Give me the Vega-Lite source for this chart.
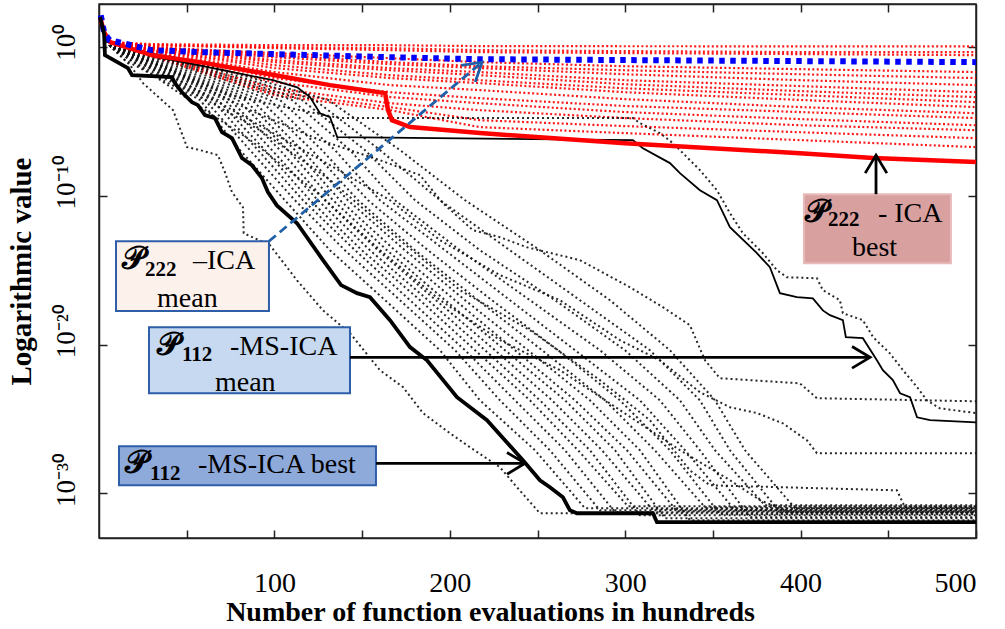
{
"$schema":"https://vega.github.io/schema/vega-lite/v6.json",
"width":877,"height":534,
"autosize":{"type":"none"},
"padding":{"left":99,"top":4,"right":29,"bottom":91},
"config":{"font":"Liberation Serif","view":{"stroke":"#222","strokeWidth":1.5}},
"datasets":{
"lines":[
{"grp":"ica_run","run":"r1","x":1,"y":100},{"grp":"ica_run","run":"r1","x":3,"y":6},{"grp":"ica_run","run":"r1","x":6,"y":2.2},{"grp":"ica_run","run":"r1","x":30,"y":1.6},{"grp":"ica_run","run":"r1","x":100,"y":1.35},{"grp":"ica_run","run":"r1","x":166,"y":1.35},{"grp":"ica_run","run":"r1","x":217,"y":1.17},{"grp":"ica_run","run":"r1","x":300,"y":1.15},{"grp":"ica_run","run":"r1","x":400,"y":1.13},{"grp":"ica_run","run":"r1","x":500,"y":1.12},
{"grp":"ica_run","run":"r2","x":1,"y":100},{"grp":"ica_run","run":"r2","x":3,"y":6},{"grp":"ica_run","run":"r2","x":6,"y":2.2},{"grp":"ica_run","run":"r2","x":30,"y":1.35},{"grp":"ica_run","run":"r2","x":100,"y":1.0},{"grp":"ica_run","run":"r2","x":166,"y":0.85},{"grp":"ica_run","run":"r2","x":217,"y":0.63},{"grp":"ica_run","run":"r2","x":300,"y":0.54},{"grp":"ica_run","run":"r2","x":400,"y":0.46},{"grp":"ica_run","run":"r2","x":500,"y":0.46},
{"grp":"ica_run","run":"r3","x":1,"y":100},{"grp":"ica_run","run":"r3","x":3,"y":6},{"grp":"ica_run","run":"r3","x":6,"y":2.2},{"grp":"ica_run","run":"r3","x":30,"y":1.35},{"grp":"ica_run","run":"r3","x":100,"y":0.85},{"grp":"ica_run","run":"r3","x":166,"y":0.63},{"grp":"ica_run","run":"r3","x":217,"y":0.46},{"grp":"ica_run","run":"r3","x":300,"y":0.4},{"grp":"ica_run","run":"r3","x":400,"y":0.34},{"grp":"ica_run","run":"r3","x":500,"y":0.29},
{"grp":"ica_run","run":"r4","x":1,"y":100},{"grp":"ica_run","run":"r4","x":3,"y":6},{"grp":"ica_run","run":"r4","x":6,"y":2.2},{"grp":"ica_run","run":"r4","x":30,"y":1.0},{"grp":"ica_run","run":"r4","x":100,"y":0.4},{"grp":"ica_run","run":"r4","x":166,"y":0.18},{"grp":"ica_run","run":"r4","x":217,"y":0.098},{"grp":"ica_run","run":"r4","x":300,"y":0.052},{"grp":"ica_run","run":"r4","x":400,"y":0.033},{"grp":"ica_run","run":"r4","x":500,"y":0.021},
{"grp":"ica_run","run":"r5","x":1,"y":100},{"grp":"ica_run","run":"r5","x":3,"y":6},{"grp":"ica_run","run":"r5","x":6,"y":2.2},{"grp":"ica_run","run":"r5","x":30,"y":1.0},{"grp":"ica_run","run":"r5","x":100,"y":0.29},{"grp":"ica_run","run":"r5","x":166,"y":0.098},{"grp":"ica_run","run":"r5","x":217,"y":0.052},{"grp":"ica_run","run":"r5","x":300,"y":0.028},{"grp":"ica_run","run":"r5","x":400,"y":0.015},{"grp":"ica_run","run":"r5","x":500,"y":0.0083},
{"grp":"ica_run","run":"r6","x":1,"y":100},{"grp":"ica_run","run":"r6","x":3,"y":6},{"grp":"ica_run","run":"r6","x":6,"y":2.2},{"grp":"ica_run","run":"r6","x":30,"y":0.85},{"grp":"ica_run","run":"r6","x":100,"y":0.21},{"grp":"ica_run","run":"r6","x":166,"y":0.072},{"grp":"ica_run","run":"r6","x":217,"y":0.039},{"grp":"ica_run","run":"r6","x":300,"y":0.015},{"grp":"ica_run","run":"r6","x":400,"y":0.006},{"grp":"ica_run","run":"r6","x":500,"y":0.0028},
{"grp":"ica_run","run":"r7","x":1,"y":100},{"grp":"ica_run","run":"r7","x":3,"y":6},{"grp":"ica_run","run":"r7","x":6,"y":2.2},{"grp":"ica_run","run":"r7","x":30,"y":0.85},{"grp":"ica_run","run":"r7","x":100,"y":0.135},{"grp":"ica_run","run":"r7","x":166,"y":0.039},{"grp":"ica_run","run":"r7","x":217,"y":0.021},{"grp":"ica_run","run":"r7","x":300,"y":0.006},{"grp":"ica_run","run":"r7","x":400,"y":0.0024},{"grp":"ica_run","run":"r7","x":500,"y":0.00093},
{"grp":"ica_run","run":"r8","x":1,"y":100},{"grp":"ica_run","run":"r8","x":3,"y":6},{"grp":"ica_run","run":"r8","x":6,"y":2.2},{"grp":"ica_run","run":"r8","x":30,"y":0.74},{"grp":"ica_run","run":"r8","x":100,"y":0.098},{"grp":"ica_run","run":"r8","x":166,"y":0.028},{"grp":"ica_run","run":"r8","x":217,"y":0.013},{"grp":"ica_run","run":"r8","x":300,"y":0.0032},{"grp":"ica_run","run":"r8","x":400,"y":0.0011},{"grp":"ica_run","run":"r8","x":500,"y":0.00044},
{"grp":"ica_run","run":"r9","x":1,"y":100},{"grp":"ica_run","run":"r9","x":3,"y":6},{"grp":"ica_run","run":"r9","x":6,"y":2.2},{"grp":"ica_run","run":"r9","x":30,"y":0.63},{"grp":"ica_run","run":"r9","x":100,"y":0.062},{"grp":"ica_run","run":"r9","x":166,"y":0.013},{"grp":"ica_run","run":"r9","x":217,"y":0.006},{"grp":"ica_run","run":"r9","x":300,"y":0.0017},{"grp":"ica_run","run":"r9","x":400,"y":0.00059},{"grp":"ica_run","run":"r9","x":500,"y":0.0002},
{"grp":"ica_run","run":"r10","x":1,"y":100},{"grp":"ica_run","run":"r10","x":3,"y":6},{"grp":"ica_run","run":"r10","x":6,"y":2.2},{"grp":"ica_run","run":"r10","x":30,"y":0.63},{"grp":"ica_run","run":"r10","x":100,"y":0.039},{"grp":"ica_run","run":"r10","x":166,"y":0.0083},{"grp":"ica_run","run":"r10","x":217,"y":0.0038},{"grp":"ica_run","run":"r10","x":300,"y":0.00093},{"grp":"ica_run","run":"r10","x":400,"y":0.00028},{"grp":"ica_run","run":"r10","x":500,"y":0.000093},
{"grp":"ica_run","run":"r11","x":1,"y":100},{"grp":"ica_run","run":"r11","x":3,"y":6},{"grp":"ica_run","run":"r11","x":6,"y":2.2},{"grp":"ica_run","run":"r11","x":30,"y":0.54},{"grp":"ica_run","run":"r11","x":100,"y":0.021},{"grp":"ica_run","run":"r11","x":166,"y":0.0028},{"grp":"ica_run","run":"r11","x":217,"y":0.0013},{"grp":"ica_run","run":"r11","x":300,"y":0.00032},{"grp":"ica_run","run":"r11","x":400,"y":0.000093},{"grp":"ica_run","run":"r11","x":500,"y":0.000036},
{"grp":"ica_run","run":"r12","x":1,"y":100},{"grp":"ica_run","run":"r12","x":3,"y":6},{"grp":"ica_run","run":"r12","x":6,"y":2.2},{"grp":"ica_run","run":"r12","x":30,"y":0.46},{"grp":"ica_run","run":"r12","x":100,"y":0.0083},{"grp":"ica_run","run":"r12","x":166,"y":0.00093},{"grp":"ica_run","run":"r12","x":217,"y":0.00037},{"grp":"ica_run","run":"r12","x":300,"y":0.00011},{"grp":"ica_run","run":"r12","x":400,"y":0.000043},{"grp":"ica_run","run":"r12","x":500,"y":0.000017},
{"grp":"ica_run","run":"r13","x":1,"y":100},{"grp":"ica_run","run":"r13","x":3,"y":6},{"grp":"ica_run","run":"r13","x":6,"y":2.2},{"grp":"ica_run","run":"r13","x":30,"y":0.4},{"grp":"ica_run","run":"r13","x":100,"y":0.0045},{"grp":"ica_run","run":"r13","x":166,"y":0.00044},{"grp":"ica_run","run":"r13","x":217,"y":0.00017},{"grp":"ica_run","run":"r13","x":300,"y":0.000043},{"grp":"ica_run","run":"r13","x":400,"y":0.0000145},{"grp":"ica_run","run":"r13","x":500,"y":0.0000056},
{"grp":"ica_run","run":"r14","x":1,"y":100},{"grp":"ica_run","run":"r14","x":3,"y":6},{"grp":"ica_run","run":"r14","x":6,"y":2.2},{"grp":"ica_run","run":"r14","x":30,"y":0.34},{"grp":"ica_run","run":"r14","x":100,"y":0.0017},{"grp":"ica_run","run":"r14","x":166,"y":0.00017},{"grp":"ica_run","run":"r14","x":217,"y":0.000058},{"grp":"ica_run","run":"r14","x":300,"y":0.000017},{"grp":"ica_run","run":"r14","x":400,"y":0.0000056},{"grp":"ica_run","run":"r14","x":500,"y":0.0000026},
{"grp":"ica_run","run":"r15","x":1,"y":100},{"grp":"ica_run","run":"r15","x":3,"y":6},{"grp":"ica_run","run":"r15","x":6,"y":2.2},{"grp":"ica_run","run":"r15","x":30,"y":0.29},{"grp":"ica_run","run":"r15","x":100,"y":0.00093},{"grp":"ica_run","run":"r15","x":166,"y":0.000093},{"grp":"ica_run","run":"r15","x":217,"y":0.0000123},{"grp":"ica_run","run":"r15","x":300,"y":0.0000049},{"grp":"ica_run","run":"r15","x":400,"y":0.0000019},{"grp":"ica_run","run":"r15","x":500,"y":7.6e-7},
{"grp":"ica_run","run":"r16","x":1,"y":100},{"grp":"ica_run","run":"r16","x":3,"y":6},{"grp":"ica_run","run":"r16","x":6,"y":2.2},{"grp":"ica_run","run":"r16","x":30,"y":0.25},{"grp":"ica_run","run":"r16","x":100,"y":0.00059},{"grp":"ica_run","run":"r16","x":166,"y":0.000058},{"grp":"ica_run","run":"r16","x":217,"y":4.2e-6},{"grp":"ica_run","run":"r16","x":300,"y":1.66e-6},{"grp":"ica_run","run":"r16","x":400,"y":5.6e-7},{"grp":"ica_run","run":"r16","x":500,"y":1.9e-7},

{"grp":"ica_mean","run":"m","x":1,"y":140},{"grp":"ica_mean","run":"m","x":3,"y":8.7},{"grp":"ica_mean","run":"m","x":6,"y":3},{"grp":"ica_mean","run":"m","x":30,"y":0.63},{"grp":"ica_mean","run":"m","x":58,"y":0.46},{"grp":"ica_mean","run":"m","x":100,"y":0.34},{"grp":"ica_mean","run":"m","x":166,"y":0.21},{"grp":"ica_mean","run":"m","x":217,"y":0.155},{"grp":"ica_mean","run":"m","x":300,"y":0.135},{"grp":"ica_mean","run":"m","x":400,"y":0.115},{"grp":"ica_mean","run":"m","x":500,"y":0.098},

{"grp":"ica_best","run":"b","x":0.6,"y":105},{"grp":"ica_best","run":"b","x":2.9,"y":10.2},{"grp":"ica_best","run":"b","x":6.3,"y":2.2},{"grp":"ica_best","run":"b","x":30.2,"y":0.29},{"grp":"ica_best","run":"b","x":57.6,"y":0.098},{"grp":"ica_best","run":"b","x":99.8,"y":0.0132},{"grp":"ica_best","run":"b","x":131.7,"y":0.0028},{"grp":"ica_best","run":"b","x":163.1,"y":0.00081},{"grp":"ica_best","run":"b","x":164.8,"y":0.000058},{"grp":"ica_best","run":"b","x":167.0,"y":0.0000123},{"grp":"ica_best","run":"b","x":177.3,"y":4.2e-6},{"grp":"ica_best","run":"b","x":217.2,"y":1.66e-6},{"grp":"ica_best","run":"b","x":299.9,"y":3.5e-7},{"grp":"ica_best","run":"b","x":399.6,"y":7.4e-8},{"grp":"ica_best","run":"b","x":441.3,"y":3.5e-8},{"grp":"ica_best","run":"b","x":500,"y":1.86e-8},

{"grp":"ms_mean","run":"m","x":0.6,"y":105},{"grp":"ms_mean","run":"m","x":2.9,"y":13.8},{"grp":"ms_mean","run":"m","x":6.3,"y":2.2},{"grp":"ms_mean","run":"m","x":33.1,"y":0.21},{"grp":"ms_mean","run":"m","x":70.7,"y":0.028},{"grp":"ms_mean","run":"m","x":99.2,"y":0.006},{"grp":"ms_mean","run":"m","x":113.0,"y":0.002},{"grp":"ms_mean","run":"m","x":120.3,"y":0.00044},{"grp":"ms_mean","run":"m","x":126.0,"y":3.6e-5},{"grp":"ms_mean","run":"m","x":131.7,"y":1.95e-5},{"grp":"ms_mean","run":"m","x":135.8,"y":8.9e-7},{"grp":"ms_mean","run":"m","x":304.4,"y":5.6e-7},{"grp":"ms_mean","run":"m","x":310.1,"y":1.6e-7},{"grp":"ms_mean","run":"m","x":325.5,"y":1.6e-8},{"grp":"ms_mean","run":"m","x":331.2,"y":3.4e-9},{"grp":"ms_mean","run":"m","x":342.6,"y":2.4e-10},{"grp":"ms_mean","run":"m","x":352.3,"y":5.1e-11},{"grp":"ms_mean","run":"m","x":359.7,"y":7.9e-13},{"grp":"ms_mean","run":"m","x":375.1,"y":1.4e-14},{"grp":"ms_mean","run":"m","x":382.5,"y":1.6e-15},{"grp":"ms_mean","run":"m","x":388.2,"y":2.9e-17},{"grp":"ms_mean","run":"m","x":397.9,"y":1.55e-17},{"grp":"ms_mean","run":"m","x":407.0,"y":1.3e-17},{"grp":"ms_mean","run":"m","x":412.7,"y":2.0e-18},{"grp":"ms_mean","run":"m","x":416.7,"y":9.5e-19},{"grp":"ms_mean","run":"m","x":424.1,"y":4.4e-19},{"grp":"ms_mean","run":"m","x":425.8,"y":3.2e-20},{"grp":"ms_mean","run":"m","x":435.5,"y":2.7e-20},{"grp":"ms_mean","run":"m","x":443.5,"y":8.9e-22},{"grp":"ms_mean","run":"m","x":446.9,"y":1.9e-22},{"grp":"ms_mean","run":"m","x":452.6,"y":4.1e-23},{"grp":"ms_mean","run":"m","x":456.7,"y":5.4e-24},{"grp":"ms_mean","run":"m","x":462.4,"y":2.9e-24},{"grp":"ms_mean","run":"m","x":466.4,"y":1.3e-25},{"grp":"ms_mean","run":"m","x":473.8,"y":8.3e-26},{"grp":"ms_mean","run":"m","x":500,"y":6.0e-26},

{"grp":"ms_best","run":"b","x":0.6,"y":105},{"grp":"ms_best","run":"b","x":2.9,"y":7.9},{"grp":"ms_best","run":"b","x":3.4,"y":0.29},{"grp":"ms_best","run":"b","x":16.5,"y":0.039},{"grp":"ms_best","run":"b","x":18.8,"y":0.013},{"grp":"ms_best","run":"b","x":41.6,"y":0.0095},{"grp":"ms_best","run":"b","x":43.3,"y":0.0038},{"grp":"ms_best","run":"b","x":47.3,"y":0.00093},{"grp":"ms_best","run":"b","x":53.0,"y":0.0002},{"grp":"ms_best","run":"b","x":56.4,"y":0.000126},{"grp":"ms_best","run":"b","x":60.4,"y":2.7e-5},{"grp":"ms_best","run":"b","x":66.1,"y":1.7e-5},{"grp":"ms_best","run":"b","x":70.1,"y":1.9e-6},{"grp":"ms_best","run":"b","x":75.8,"y":7.6e-7},{"grp":"ms_best","run":"b","x":81.5,"y":3.5e-8},{"grp":"ms_best","run":"b","x":87.2,"y":1.15e-8},{"grp":"ms_best","run":"b","x":92.9,"y":1.55e-9},{"grp":"ms_best","run":"b","x":96.3,"y":1.8e-10},{"grp":"ms_best","run":"b","x":101.4,"y":2.3e-11},{"grp":"ms_best","run":"b","x":112.9,"y":1.45e-12},{"grp":"ms_best","run":"b","x":127.7,"y":4.8e-15},{"grp":"ms_best","run":"b","x":138.0,"y":1e-16},{"grp":"ms_best","run":"b","x":147.1,"y":2.9e-17},{"grp":"ms_best","run":"b","x":154.5,"y":1.55e-17},{"grp":"ms_best","run":"b","x":165.9,"y":4.4e-19},{"grp":"ms_best","run":"b","x":177.3,"y":6.8e-21},{"grp":"ms_best","run":"b","x":187.0,"y":8.9e-22},{"grp":"ms_best","run":"b","x":204.1,"y":2.9e-24},{"grp":"ms_best","run":"b","x":221.2,"y":8.3e-26},{"grp":"ms_best","run":"b","x":241.7,"y":1.7e-28},{"grp":"ms_best","run":"b","x":251.4,"y":7.6e-30},{"grp":"ms_best","run":"b","x":257.1,"y":2.6e-30},{"grp":"ms_best","run":"b","x":264.5,"y":5.5e-31},{"grp":"ms_best","run":"b","x":268.5,"y":7.2e-32},{"grp":"ms_best","run":"b","x":272.5,"y":4.6e-32},{"grp":"ms_best","run":"b","x":315.8,"y":4.6e-32},{"grp":"ms_best","run":"b","x":318.1,"y":1.15e-32},{"grp":"ms_best","run":"b","x":500,"y":1.15e-32},

{"grp":"ms_run","run":"A","x":0.6,"y":105},{"grp":"ms_run","run":"A","x":2.9,"y":6},{"grp":"ms_run","run":"A","x":6.3,"y":1.2},{"grp":"ms_run","run":"A","x":17.7,"y":0.062},{"grp":"ms_run","run":"A","x":25.1,"y":0.0038},{"grp":"ms_run","run":"A","x":42.2,"y":5.8e-5},{"grp":"ms_run","run":"A","x":50.2,"y":1.9e-7},{"grp":"ms_run","run":"A","x":57.6,"y":1.2e-7},{"grp":"ms_run","run":"A","x":67.8,"y":5.5e-8},{"grp":"ms_run","run":"A","x":71.8,"y":3.9e-9},{"grp":"ms_run","run":"A","x":75.8,"y":1.8e-10},{"grp":"ms_run","run":"A","x":82.1,"y":1.7e-11},{"grp":"ms_run","run":"A","x":82.5,"y":3.1e-13},{"grp":"ms_run","run":"A","x":97.5,"y":4.8e-14},{"grp":"ms_run","run":"A","x":112.9,"y":2.1e-16},{"grp":"ms_run","run":"A","x":127.7,"y":2.0e-18},{"grp":"ms_run","run":"A","x":143.1,"y":5.9e-20},{"grp":"ms_run","run":"A","x":160.2,"y":1.9e-22},{"grp":"ms_run","run":"A","x":173.3,"y":1.4e-23},{"grp":"ms_run","run":"A","x":184.7,"y":2.5e-25},{"grp":"ms_run","run":"A","x":200.1,"y":1.1e-26},{"grp":"ms_run","run":"A","x":211.5,"y":1.26e-27},{"grp":"ms_run","run":"A","x":228.6,"y":5.7e-29},{"grp":"ms_run","run":"A","x":238.3,"y":2.6e-30},{"grp":"ms_run","run":"A","x":251.4,"y":4.6e-32},{"grp":"ms_run","run":"A","x":500,"y":4.6e-32},

{"grp":"ms_run","run":"M1","x":0.6,"y":105},{"grp":"ms_run","run":"M1","x":2.9,"y":6},{"grp":"ms_run","run":"M1","x":6.3,"y":1.2},{"grp":"ms_run","run":"M1","x":14.8,"y":0.135},{"grp":"ms_run","run":"M1","x":57.6,"y":2.8e-4},{"grp":"ms_run","run":"M1","x":80.4,"y":1.2e-7},{"grp":"ms_run","run":"M1","x":106.0,"y":5.1e-11},{"grp":"ms_run","run":"M1","x":131.7,"y":2.2e-14},{"grp":"ms_run","run":"M1","x":163.1,"y":9.7e-18},{"grp":"ms_run","run":"M1","x":194.4,"y":4.2e-21},{"grp":"ms_run","run":"M1","x":217.2,"y":1.8e-24},{"grp":"ms_run","run":"M1","x":248.6,"y":7.9e-28},{"grp":"ms_run","run":"M1","x":277.1,"y":1.0e-31},{"grp":"ms_run","run":"M1","x":500,"y":1.0e-31},
{"grp":"ms_run","run":"M2","x":0.6,"y":105},{"grp":"ms_run","run":"M2","x":2.9,"y":6},{"grp":"ms_run","run":"M2","x":6.3,"y":1.2},{"grp":"ms_run","run":"M2","x":17.7,"y":0.135},{"grp":"ms_run","run":"M2","x":60.4,"y":2.8e-4},{"grp":"ms_run","run":"M2","x":86.1,"y":1.2e-7},{"grp":"ms_run","run":"M2","x":111.7,"y":5.1e-11},{"grp":"ms_run","run":"M2","x":140.2,"y":2.2e-14},{"grp":"ms_run","run":"M2","x":171.6,"y":9.7e-18},{"grp":"ms_run","run":"M2","x":203.0,"y":4.2e-21},{"grp":"ms_run","run":"M2","x":228.6,"y":1.8e-24},{"grp":"ms_run","run":"M2","x":257.1,"y":7.9e-28},{"grp":"ms_run","run":"M2","x":285.6,"y":7.2e-32},{"grp":"ms_run","run":"M2","x":500,"y":7.2e-32},
{"grp":"ms_run","run":"M3","x":0.6,"y":105},{"grp":"ms_run","run":"M3","x":2.9,"y":6},{"grp":"ms_run","run":"M3","x":6.3,"y":1.2},{"grp":"ms_run","run":"M3","x":20.5,"y":0.135},{"grp":"ms_run","run":"M3","x":64.4,"y":2.8e-4},{"grp":"ms_run","run":"M3","x":90.6,"y":1.2e-7},{"grp":"ms_run","run":"M3","x":116.3,"y":5.1e-11},{"grp":"ms_run","run":"M3","x":146.0,"y":2.2e-14},{"grp":"ms_run","run":"M3","x":177.3,"y":9.7e-18},{"grp":"ms_run","run":"M3","x":208.7,"y":4.2e-21},{"grp":"ms_run","run":"M3","x":237.2,"y":1.8e-24},{"grp":"ms_run","run":"M3","x":265.7,"y":7.9e-28},{"grp":"ms_run","run":"M3","x":294.2,"y":5.4e-32},{"grp":"ms_run","run":"M3","x":500,"y":5.4e-32},
{"grp":"ms_run","run":"M4","x":0.6,"y":105},{"grp":"ms_run","run":"M4","x":2.9,"y":6},{"grp":"ms_run","run":"M4","x":6.3,"y":1.2},{"grp":"ms_run","run":"M4","x":22.2,"y":0.135},{"grp":"ms_run","run":"M4","x":67.8,"y":2.8e-4},{"grp":"ms_run","run":"M4","x":94.6,"y":1.2e-7},{"grp":"ms_run","run":"M4","x":120.3,"y":5.1e-11},{"grp":"ms_run","run":"M4","x":149.9,"y":2.2e-14},{"grp":"ms_run","run":"M4","x":183.0,"y":9.7e-18},{"grp":"ms_run","run":"M4","x":214.4,"y":4.2e-21},{"grp":"ms_run","run":"M4","x":245.7,"y":1.8e-24},{"grp":"ms_run","run":"M4","x":273.1,"y":7.9e-28},{"grp":"ms_run","run":"M4","x":301.6,"y":1.35e-31},{"grp":"ms_run","run":"M4","x":500,"y":1.35e-31},
{"grp":"ms_run","run":"M5","x":0.6,"y":105},{"grp":"ms_run","run":"M5","x":2.9,"y":6},{"grp":"ms_run","run":"M5","x":6.3,"y":1.2},{"grp":"ms_run","run":"M5","x":24.5,"y":0.135},{"grp":"ms_run","run":"M5","x":71.8,"y":2.8e-4},{"grp":"ms_run","run":"M5","x":98.6,"y":1.2e-7},{"grp":"ms_run","run":"M5","x":124.8,"y":5.1e-11},{"grp":"ms_run","run":"M5","x":154.5,"y":2.2e-14},{"grp":"ms_run","run":"M5","x":187.6,"y":9.7e-18},{"grp":"ms_run","run":"M5","x":220.1,"y":4.2e-21},{"grp":"ms_run","run":"M5","x":251.4,"y":1.8e-24},{"grp":"ms_run","run":"M5","x":279.9,"y":7.9e-28},{"grp":"ms_run","run":"M5","x":308.4,"y":3.4e-32},{"grp":"ms_run","run":"M5","x":500,"y":3.4e-32},
{"grp":"ms_run","run":"M6","x":0.6,"y":105},{"grp":"ms_run","run":"M6","x":2.9,"y":6},{"grp":"ms_run","run":"M6","x":6.3,"y":1.2},{"grp":"ms_run","run":"M6","x":26.2,"y":0.135},{"grp":"ms_run","run":"M6","x":74.7,"y":2.8e-4},{"grp":"ms_run","run":"M6","x":103.2,"y":1.2e-7},{"grp":"ms_run","run":"M6","x":128.8,"y":5.1e-11},{"grp":"ms_run","run":"M6","x":159.1,"y":2.2e-14},{"grp":"ms_run","run":"M6","x":192.1,"y":9.7e-18},{"grp":"ms_run","run":"M6","x":225.8,"y":4.2e-21},{"grp":"ms_run","run":"M6","x":258.3,"y":1.8e-24},{"grp":"ms_run","run":"M6","x":286.8,"y":7.9e-28},{"grp":"ms_run","run":"M6","x":315.3,"y":8.5e-32},{"grp":"ms_run","run":"M6","x":500,"y":8.5e-32},
{"grp":"ms_run","run":"M7","x":0.6,"y":105},{"grp":"ms_run","run":"M7","x":2.9,"y":6},{"grp":"ms_run","run":"M7","x":6.3,"y":1.2},{"grp":"ms_run","run":"M7","x":27.9,"y":0.135},{"grp":"ms_run","run":"M7","x":79.2,"y":2.8e-4},{"grp":"ms_run","run":"M7","x":107.7,"y":1.2e-7},{"grp":"ms_run","run":"M7","x":133.4,"y":5.1e-11},{"grp":"ms_run","run":"M7","x":164.2,"y":2.2e-14},{"grp":"ms_run","run":"M7","x":197.3,"y":9.7e-18},{"grp":"ms_run","run":"M7","x":231.5,"y":4.2e-21},{"grp":"ms_run","run":"M7","x":265.7,"y":1.8e-24},{"grp":"ms_run","run":"M7","x":294.2,"y":7.9e-28},{"grp":"ms_run","run":"M7","x":322.7,"y":2.1e-32},{"grp":"ms_run","run":"M7","x":500,"y":2.1e-32},
{"grp":"ms_run","run":"M8","x":0.6,"y":105},{"grp":"ms_run","run":"M8","x":2.9,"y":6},{"grp":"ms_run","run":"M8","x":6.3,"y":1.2},{"grp":"ms_run","run":"M8","x":30.2,"y":0.135},{"grp":"ms_run","run":"M8","x":83.2,"y":2.8e-4},{"grp":"ms_run","run":"M8","x":111.7,"y":1.2e-7},{"grp":"ms_run","run":"M8","x":137.4,"y":5.1e-11},{"grp":"ms_run","run":"M8","x":168.7,"y":2.2e-14},{"grp":"ms_run","run":"M8","x":203.0,"y":9.7e-18},{"grp":"ms_run","run":"M8","x":237.2,"y":4.2e-21},{"grp":"ms_run","run":"M8","x":271.4,"y":1.8e-24},{"grp":"ms_run","run":"M8","x":301.0,"y":7.9e-28},{"grp":"ms_run","run":"M8","x":329.5,"y":6.3e-32},{"grp":"ms_run","run":"M8","x":500,"y":6.3e-32},
{"grp":"ms_run","run":"M9","x":0.6,"y":105},{"grp":"ms_run","run":"M9","x":2.9,"y":6},{"grp":"ms_run","run":"M9","x":6.3,"y":1.2},{"grp":"ms_run","run":"M9","x":31.9,"y":0.135},{"grp":"ms_run","run":"M9","x":87.2,"y":2.8e-4},{"grp":"ms_run","run":"M9","x":115.7,"y":1.2e-7},{"grp":"ms_run","run":"M9","x":141.9,"y":5.1e-11},{"grp":"ms_run","run":"M9","x":174.4,"y":2.2e-14},{"grp":"ms_run","run":"M9","x":208.7,"y":9.7e-18},{"grp":"ms_run","run":"M9","x":244.6,"y":4.2e-21},{"grp":"ms_run","run":"M9","x":279.9,"y":1.8e-24},{"grp":"ms_run","run":"M9","x":308.4,"y":7.9e-28},{"grp":"ms_run","run":"M9","x":336.9,"y":1.55e-32},{"grp":"ms_run","run":"M9","x":500,"y":1.55e-32},
{"grp":"ms_run","run":"M10","x":0.6,"y":105},{"grp":"ms_run","run":"M10","x":2.9,"y":6},{"grp":"ms_run","run":"M10","x":6.3,"y":1.2},{"grp":"ms_run","run":"M10","x":34.8,"y":0.135},{"grp":"ms_run","run":"M10","x":91.8,"y":2.8e-4},{"grp":"ms_run","run":"M10","x":121.4,"y":1.2e-7},{"grp":"ms_run","run":"M10","x":147.7,"y":5.1e-11},{"grp":"ms_run","run":"M10","x":180.2,"y":2.2e-14},{"grp":"ms_run","run":"M10","x":216.1,"y":9.7e-18},{"grp":"ms_run","run":"M10","x":252.6,"y":4.2e-21},{"grp":"ms_run","run":"M10","x":288.5,"y":1.8e-24},{"grp":"ms_run","run":"M10","x":316.9,"y":7.9e-28},{"grp":"ms_run","run":"M10","x":345.5,"y":1.17e-31},{"grp":"ms_run","run":"M10","x":500,"y":1.17e-31},
{"grp":"ms_run","run":"M11","x":0.6,"y":105},{"grp":"ms_run","run":"M11","x":2.9,"y":6},{"grp":"ms_run","run":"M11","x":6.3,"y":1.2},{"grp":"ms_run","run":"M11","x":37.6,"y":0.135},{"grp":"ms_run","run":"M11","x":97.5,"y":2.8e-4},{"grp":"ms_run","run":"M11","x":127.1,"y":1.2e-7},{"grp":"ms_run","run":"M11","x":153.4,"y":5.1e-11},{"grp":"ms_run","run":"M11","x":187.6,"y":2.2e-14},{"grp":"ms_run","run":"M11","x":224.0,"y":9.7e-18},{"grp":"ms_run","run":"M11","x":261.7,"y":4.2e-21},{"grp":"ms_run","run":"M11","x":297.0,"y":1.8e-24},{"grp":"ms_run","run":"M11","x":325.5,"y":7.9e-28},{"grp":"ms_run","run":"M11","x":354.0,"y":4.0e-32},{"grp":"ms_run","run":"M11","x":500,"y":4.0e-32},
{"grp":"ms_run","run":"M12","x":0.6,"y":105},{"grp":"ms_run","run":"M12","x":2.9,"y":6},{"grp":"ms_run","run":"M12","x":6.3,"y":1.2},{"grp":"ms_run","run":"M12","x":40.5,"y":0.135},{"grp":"ms_run","run":"M12","x":103.2,"y":2.8e-4},{"grp":"ms_run","run":"M12","x":134.5,"y":1.2e-7},{"grp":"ms_run","run":"M12","x":160.2,"y":5.1e-11},{"grp":"ms_run","run":"M12","x":197.3,"y":2.2e-14},{"grp":"ms_run","run":"M12","x":234.3,"y":9.7e-18},{"grp":"ms_run","run":"M12","x":271.4,"y":4.2e-21},{"grp":"ms_run","run":"M12","x":308.4,"y":1.8e-24},{"grp":"ms_run","run":"M12","x":334.1,"y":7.9e-28},{"grp":"ms_run","run":"M12","x":362.6,"y":7.2e-32},{"grp":"ms_run","run":"M12","x":500,"y":7.2e-32},
{"grp":"ms_run","run":"M13","x":0.6,"y":105},{"grp":"ms_run","run":"M13","x":2.9,"y":6},{"grp":"ms_run","run":"M13","x":6.3,"y":1.2},{"grp":"ms_run","run":"M13","x":43.3,"y":0.135},{"grp":"ms_run","run":"M13","x":110.0,"y":2.8e-4},{"grp":"ms_run","run":"M13","x":143.1,"y":1.2e-7},{"grp":"ms_run","run":"M13","x":168.7,"y":5.1e-11},{"grp":"ms_run","run":"M13","x":205.8,"y":2.2e-14},{"grp":"ms_run","run":"M13","x":245.7,"y":9.7e-18},{"grp":"ms_run","run":"M13","x":285.6,"y":4.2e-21},{"grp":"ms_run","run":"M13","x":319.8,"y":1.8e-24},{"grp":"ms_run","run":"M13","x":342.6,"y":7.9e-28},{"grp":"ms_run","run":"M13","x":371.1,"y":2.5e-32},{"grp":"ms_run","run":"M13","x":500,"y":2.5e-32},
{"grp":"ms_run","run":"M14","x":0.6,"y":105},{"grp":"ms_run","run":"M14","x":2.9,"y":6},{"grp":"ms_run","run":"M14","x":6.3,"y":1.2},{"grp":"ms_run","run":"M14","x":46.2,"y":0.135},{"grp":"ms_run","run":"M14","x":115.7,"y":2.8e-4},{"grp":"ms_run","run":"M14","x":151.6,"y":1.2e-7},{"grp":"ms_run","run":"M14","x":180.2,"y":5.1e-11},{"grp":"ms_run","run":"M14","x":217.2,"y":2.2e-14},{"grp":"ms_run","run":"M14","x":260.0,"y":9.7e-18},{"grp":"ms_run","run":"M14","x":299.9,"y":4.2e-21},{"grp":"ms_run","run":"M14","x":331.2,"y":1.8e-24},{"grp":"ms_run","run":"M14","x":351.2,"y":7.9e-28},{"grp":"ms_run","run":"M14","x":379.7,"y":1.58e-31},{"grp":"ms_run","run":"M14","x":500,"y":1.58e-31},
{"grp":"ms_run","run":"M15","x":0.6,"y":105},{"grp":"ms_run","run":"M15","x":2.9,"y":6},{"grp":"ms_run","run":"M15","x":6.3,"y":1.2},{"grp":"ms_run","run":"M15","x":49.0,"y":0.135},{"grp":"ms_run","run":"M15","x":123.1,"y":2.8e-4},{"grp":"ms_run","run":"M15","x":160.2,"y":1.2e-7},{"grp":"ms_run","run":"M15","x":194.4,"y":5.1e-11},{"grp":"ms_run","run":"M15","x":234.3,"y":2.2e-14},{"grp":"ms_run","run":"M15","x":274.2,"y":9.7e-18},{"grp":"ms_run","run":"M15","x":314.1,"y":4.2e-21},{"grp":"ms_run","run":"M15","x":342.6,"y":1.8e-24},{"grp":"ms_run","run":"M15","x":359.7,"y":7.9e-28},{"grp":"ms_run","run":"M15","x":388.2,"y":5.4e-32},{"grp":"ms_run","run":"M15","x":500,"y":5.4e-32},
{"grp":"ms_run","run":"M16","x":0.6,"y":105},{"grp":"ms_run","run":"M16","x":2.9,"y":6},{"grp":"ms_run","run":"M16","x":6.3,"y":1.2},{"grp":"ms_run","run":"M16","x":51.9,"y":0.135},{"grp":"ms_run","run":"M16","x":130.6,"y":2.8e-4},{"grp":"ms_run","run":"M16","x":171.6,"y":1.2e-7},{"grp":"ms_run","run":"M16","x":208.7,"y":5.1e-11},{"grp":"ms_run","run":"M16","x":251.4,"y":2.2e-14},{"grp":"ms_run","run":"M16","x":291.3,"y":9.7e-18},{"grp":"ms_run","run":"M16","x":325.5,"y":4.2e-21},{"grp":"ms_run","run":"M16","x":351.2,"y":1.8e-24},{"grp":"ms_run","run":"M16","x":368.3,"y":7.9e-28},{"grp":"ms_run","run":"M16","x":396.8,"y":1.0e-31},{"grp":"ms_run","run":"M16","x":500,"y":1.0e-31},

{"grp":"ms_run","run":"S1","x":0.6,"y":105},{"grp":"ms_run","run":"S1","x":2.9,"y":6},{"grp":"ms_run","run":"S1","x":6.3,"y":1.2},{"grp":"ms_run","run":"S1","x":34.8,"y":0.062},{"grp":"ms_run","run":"S1","x":74.7,"y":5.9e-4},{"grp":"ms_run","run":"S1","x":114.6,"y":5.8e-5},{"grp":"ms_run","run":"S1","x":137.4,"y":1.7e-5},{"grp":"ms_run","run":"S1","x":304.4,"y":1.7e-5},{"grp":"ms_run","run":"S1","x":308.4,"y":7.8e-6},{"grp":"ms_run","run":"S1","x":319.8,"y":1.66e-6},{"grp":"ms_run","run":"S1","x":327.2,"y":3.5e-7},{"grp":"ms_run","run":"S1","x":335.2,"y":4.0e-8},{"grp":"ms_run","run":"S1","x":342.6,"y":5.4e-9},{"grp":"ms_run","run":"S1","x":352.3,"y":2.4e-10},{"grp":"ms_run","run":"S1","x":359.7,"y":6.9e-12},{"grp":"ms_run","run":"S1","x":367.1,"y":3.1e-13},{"grp":"ms_run","run":"S1","x":378.5,"y":1.4e-14},{"grp":"ms_run","run":"S1","x":386.5,"y":1.0e-15},{"grp":"ms_run","run":"S1","x":392.2,"y":3.4e-16},{"grp":"ms_run","run":"S1","x":409.3,"y":2.9e-16},{"grp":"ms_run","run":"S1","x":412.7,"y":4.6e-17},{"grp":"ms_run","run":"S1","x":422.4,"y":9.7e-18},{"grp":"ms_run","run":"S1","x":424.1,"y":1.3e-18},{"grp":"ms_run","run":"S1","x":435.5,"y":4.4e-19},{"grp":"ms_run","run":"S1","x":441.3,"y":3.2e-20},{"grp":"ms_run","run":"S1","x":450.9,"y":2.6e-21},{"grp":"ms_run","run":"S1","x":458.4,"y":1.9e-22},{"grp":"ms_run","run":"S1","x":466.4,"y":1.4e-23},{"grp":"ms_run","run":"S1","x":472.0,"y":1.8e-24},{"grp":"ms_run","run":"S1","x":479.4,"y":5.2e-25},{"grp":"ms_run","run":"S1","x":500,"y":2.5e-25},
{"grp":"ms_run","run":"S2","x":0.6,"y":105},{"grp":"ms_run","run":"S2","x":2.9,"y":6},{"grp":"ms_run","run":"S2","x":6.3,"y":1.2},{"grp":"ms_run","run":"S2","x":40.5,"y":0.028},{"grp":"ms_run","run":"S2","x":86.1,"y":5.8e-5},{"grp":"ms_run","run":"S2","x":126.0,"y":5.6e-7},{"grp":"ms_run","run":"S2","x":160.2,"y":2.5e-8},{"grp":"ms_run","run":"S2","x":183.0,"y":2.5e-9},{"grp":"ms_run","run":"S2","x":196.1,"y":3.2e-11},{"grp":"ms_run","run":"S2","x":213.2,"y":4.9e-13},{"grp":"ms_run","run":"S2","x":228.6,"y":1.66e-13},{"grp":"ms_run","run":"S2","x":244.0,"y":3.5e-14},{"grp":"ms_run","run":"S2","x":274.2,"y":4.8e-15},{"grp":"ms_run","run":"S2","x":302.7,"y":7.2e-17},{"grp":"ms_run","run":"S2","x":321.5,"y":3.3e-18},{"grp":"ms_run","run":"S2","x":336.9,"y":2.0e-19},{"grp":"ms_run","run":"S2","x":345.5,"y":8.9e-22},{"grp":"ms_run","run":"S2","x":354.0,"y":5.5e-23},{"grp":"ms_run","run":"S2","x":399.6,"y":2.5e-23},{"grp":"ms_run","run":"S2","x":409.3,"y":2.5e-24},{"grp":"ms_run","run":"S2","x":500,"y":1.55e-24},
{"grp":"ms_run","run":"S3","x":0.6,"y":105},{"grp":"ms_run","run":"S3","x":2.9,"y":6},{"grp":"ms_run","run":"S3","x":6.3,"y":1.2},{"grp":"ms_run","run":"S3","x":40.6,"y":0.013},{"grp":"ms_run","run":"S3","x":86.2,"y":1.23e-5},{"grp":"ms_run","run":"S3","x":131.7,"y":1.15e-8},{"grp":"ms_run","run":"S3","x":165.9,"y":5.1e-11},{"grp":"ms_run","run":"S3","x":194.4,"y":1.05e-13},{"grp":"ms_run","run":"S3","x":228.6,"y":4.7e-16},{"grp":"ms_run","run":"S3","x":262.8,"y":9.7e-18},{"grp":"ms_run","run":"S3","x":297.0,"y":2.0e-20},{"grp":"ms_run","run":"S3","x":319.8,"y":8.9e-22},{"grp":"ms_run","run":"S3","x":342.6,"y":6.3e-24},{"grp":"ms_run","run":"S3","x":359.7,"y":6.2e-25},{"grp":"ms_run","run":"S3","x":375.1,"y":2.5e-25},{"grp":"ms_run","run":"S3","x":389.9,"y":5.1e-26},{"grp":"ms_run","run":"S3","x":403.6,"y":3.7e-27},{"grp":"ms_run","run":"S3","x":409.3,"y":5.0e-28},{"grp":"ms_run","run":"S3","x":500,"y":5.0e-28},
{"grp":"ms_run","run":"S4","x":0.6,"y":105},{"grp":"ms_run","run":"S4","x":2.9,"y":6},{"grp":"ms_run","run":"S4","x":6.3,"y":1.2},{"grp":"ms_run","run":"S4","x":46.2,"y":0.0028},{"grp":"ms_run","run":"S4","x":91.8,"y":2.6e-6},{"grp":"ms_run","run":"S4","x":131.8,"y":1.15e-9},{"grp":"ms_run","run":"S4","x":171.6,"y":1.05e-13},{"grp":"ms_run","run":"S4","x":205.8,"y":4.6e-17},{"grp":"ms_run","run":"S4","x":245.7,"y":9.3e-20},{"grp":"ms_run","run":"S4","x":285.6,"y":4.1e-23},{"grp":"ms_run","run":"S4","x":314.1,"y":8.3e-26},{"grp":"ms_run","run":"S4","x":336.9,"y":3.5e-29},{"grp":"ms_run","run":"S4","x":348.3,"y":3.5e-30},{"grp":"ms_run","run":"S4","x":454.9,"y":1.6e-30},{"grp":"ms_run","run":"S4","x":459.5,"y":1.17e-31},{"grp":"ms_run","run":"S4","x":500,"y":1.17e-31},
{"grp":"ms_run","run":"S5","x":0.6,"y":105},{"grp":"ms_run","run":"S5","x":2.9,"y":6},{"grp":"ms_run","run":"S5","x":6.3,"y":1.2},{"grp":"ms_run","run":"S5","x":43.3,"y":0.0013},{"grp":"ms_run","run":"S5","x":86.3,"y":5.6e-7},{"grp":"ms_run","run":"S5","x":126.1,"y":1.1e-10},{"grp":"ms_run","run":"S5","x":160.3,"y":2.2e-14},{"grp":"ms_run","run":"S5","x":194.5,"y":9.7e-18},{"grp":"ms_run","run":"S5","x":228.7,"y":2.0e-20},{"grp":"ms_run","run":"S5","x":262.9,"y":1.9e-22},{"grp":"ms_run","run":"S5","x":297.1,"y":3.9e-25},{"grp":"ms_run","run":"S5","x":331.3,"y":7.9e-28},{"grp":"ms_run","run":"S5","x":359.8,"y":7.6e-30},{"grp":"ms_run","run":"S5","x":376.8,"y":3.5e-31},{"grp":"ms_run","run":"S5","x":393.9,"y":5.4e-32},{"grp":"ms_run","run":"S5","x":500,"y":5.4e-32}
],
"boxes":[
{"box":"ica_mean","x":9.7,"x2":96.9,"y":8.9e-14,"y2":1.8e-18},
{"box":"ms_mean","x":28.5,"x2":143.1,"y":1.5e-19,"y2":5.4e-24},
{"box":"ms_best","x":11.4,"x2":157.9,"y":1.5e-27,"y2":3.5e-30},
{"box":"ica_best","x":401.9,"x2":485.7,"y":1.3e-10,"y2":3.0e-15}
],
"arrows":[
{"arrow":"a1","x":96.9,"y":8.9e-14,"x2":218.4,"y2":0.098},
{"arrow":"a2","x":143.1,"y":1.4e-21,"x2":439.6,"y2":1.4e-21},
{"arrow":"a3","x":157.9,"y":1.05e-28,"x2":242.9,"y2":1.05e-28},
{"arrow":"a4","x":443,"y":1.3e-10,"x2":443,"y2":5.5e-8}
],
"labels":[
{"part":"p","label":"𝒫","x":13.1,"y":1.17e-15},
{"part":"p","label":"𝒫","x":33.1,"y":1.95e-21},
{"part":"p","label":"𝒫","x":14.8,"y":2.2e-29},
{"part":"p","label":"𝒫","x":402.5,"y":1.7e-12},
{"part":"sub","label":"222","x":26.2,"y":4.3e-16},
{"part":"sub","label":"112","x":47.3,"y":8.5e-22},
{"part":"sub","label":"112","x":29.1,"y":7.6e-30},
{"part":"sub","label":"222","x":415.6,"y":8.8e-13},
{"part":"txt","label":"–ICA","x":53.6,"y":1.17e-15},
{"part":"txt","label":"mean","x":33.1,"y":3.6e-18},
{"part":"txt","label":"-MS-ICA","x":74.7,"y":1.95e-21},
{"part":"txt","label":"mean","x":66.1,"y":8.0e-24},
{"part":"txt","label":"-MS-ICA best","x":56.4,"y":2.2e-29},
{"part":"txt","label":"- ICA","x":444.1,"y":1.7e-12},
{"part":"txt","label":"best","x":429.3,"y":8.5e-15}
]
},
"layer":[
{
"encoding":{
"x":{"field":"x","type":"quantitative","scale":{"domain":[0,500],"nice":false,"zero":false},
"axis":{"values":[50,100,150,200,250,300,350,400,450,500],"labelExpr":"datum.value % 100 === 0 ? datum.label : ''","grid":false,"tickSize":-8,"tickColor":"#222","tickWidth":1.5,"domainColor":"#222","domainWidth":1.5,"labelPadding":53,"labelBaseline":"middle","labelFont":"Liberation Sans Narrow","labelFontSize":28,"labelColor":"#000","title":"Number of function evaluations in hundreds","titleFont":"Liberation Serif","titleFontSize":28,"titleFontWeight":"bold","titleColor":"#000","titleX":391,"titleY":74,"titleBaseline":"middle","titleAlign":"center","titleAnchor":"start"}},
"y":{"field":"y","type":"quantitative","scale":{"type":"log","domain":[1e-33,794],"nice":false},
"axis":{"values":[1,1e-10,1e-20,1e-30],"labelExpr":"datum.value > 0.5 ? '10⁰' : datum.value > 1e-15 ? '10⁻¹⁰' : datum.value > 1e-25 ? '10⁻²⁰' : '10⁻³⁰'","grid":false,"tickSize":-8,"tickColor":"#222","tickWidth":1.5,"domainColor":"#222","domainWidth":1.5,"labelAngle":270,"labelAlign":"left","labelBaseline":"bottom","labelOffset":13,"labelPadding":27,"labelFont":"Liberation Serif","labelFontSize":27,"labelColor":"#000","labelLimit":0,"title":"Logarithmic value","titleFont":"Liberation Serif","titleFontSize":29,"titleFontWeight":"bold","titleColor":"#000","titleX":-78,"titleY":267,"titleBaseline":"middle","titleAlign":"center","titleAngle":270,"titleAnchor":"start"}}
},
"layer":[
{"data":{"name":"lines"},"transform":[{"filter":"datum.grp === 'ica_run'"}],"mark":{"type":"line","color":"#ff0000","strokeWidth":2.2,"strokeDash":[2,2.4],"opacity":0.9},"encoding":{"detail":{"field":"run"}}},
{"data":{"name":"lines"},"transform":[{"filter":"datum.grp === 'ms_run'"}],"mark":{"type":"line","color":"#111","strokeWidth":2,"strokeDash":[2,3],"opacity":0.9},"encoding":{"detail":{"field":"run"}}},
{"data":{"name":"lines"},"transform":[{"filter":"datum.grp === 'ms_mean'"}],"mark":{"type":"line","color":"#000","strokeWidth":1.8}},
{"data":{"name":"lines"},"transform":[{"filter":"datum.grp === 'ica_best'"}],"mark":{"type":"line","color":"#ff0000","strokeWidth":4.5}},
{"data":{"name":"lines"},"transform":[{"filter":"datum.grp === 'ica_mean'"}],"mark":{"type":"line","color":"#0000ff","strokeWidth":6,"strokeDash":[5.5,5.5],"strokeCap":"butt"}},
{"data":{"name":"lines"},"transform":[{"filter":"datum.grp === 'ms_best'"}],"mark":{"type":"line","color":"#000","strokeWidth":3.8}},
{"data":{"name":"boxes"},"mark":{"type":"rect","strokeWidth":2},
 "encoding":{"x2":{"field":"x2"},"y2":{"field":"y2"},
  "fill":{"field":"box","type":"nominal","scale":{"domain":["ica_mean","ms_mean","ms_best","ica_best"],"range":["#fdf1ec","#c6d9f1","#8eaadb","#d9a0a0"]},"legend":null},
  "stroke":{"field":"box","type":"nominal","scale":{"domain":["ica_mean","ms_mean","ms_best","ica_best"],"range":["#2e5ea8","#2e5ea8","#2e5ea8","#e8baba"]},"legend":null}}},
{"data":{"name":"arrows"},"transform":[{"filter":"datum.arrow === 'a1'"}],"mark":{"type":"rule","color":"#1f5fa8","strokeWidth":2.8,"strokeDash":[9,5]},"encoding":{"x2":{"field":"x2"},"y2":{"field":"y2"}}},
{"data":{"name":"arrows"},"transform":[{"filter":"datum.arrow !== 'a1'"}],"mark":{"type":"rule","color":"#000","strokeWidth":2.8},"encoding":{"x2":{"field":"x2"},"y2":{"field":"y2"}}},
{"data":{"name":"arrows"},"transform":[{"filter":"datum.arrow === 'a1'"}],"mark":{"type":"point","shape":"M-1,-0.6L0,0L-1,0.6","size":1300,"filled":false,"stroke":"#1f5fa8","strokeWidth":2.8,"opacity":1,"angle":320},"encoding":{"x":{"field":"x2","type":"quantitative","scale":{"domain":[0,500],"nice":false,"zero":false}},"y":{"field":"y2","type":"quantitative","scale":{"type":"log","domain":[1e-33,794],"nice":false}}}},
{"data":{"name":"arrows"},"transform":[{"filter":"datum.arrow === 'a2' || datum.arrow === 'a3'"}],"mark":{"type":"point","shape":"M-1,-0.6L0,0L-1,0.6","size":1300,"filled":false,"stroke":"#000","strokeWidth":2.8,"opacity":1,"angle":0},"encoding":{"x":{"field":"x2","type":"quantitative","scale":{"domain":[0,500],"nice":false,"zero":false}},"y":{"field":"y2","type":"quantitative","scale":{"type":"log","domain":[1e-33,794],"nice":false}}}},
{"data":{"name":"arrows"},"transform":[{"filter":"datum.arrow === 'a4'"}],"mark":{"type":"point","shape":"M-1,-0.6L0,0L-1,0.6","size":1300,"filled":false,"stroke":"#000","strokeWidth":2.8,"opacity":1,"angle":270},"encoding":{"x":{"field":"x2","type":"quantitative","scale":{"domain":[0,500],"nice":false,"zero":false}},"y":{"field":"y2","type":"quantitative","scale":{"type":"log","domain":[1e-33,794],"nice":false}}}}
]
},
{"data":{"name":"labels"},
 "encoding":{
  "x":{"field":"x","type":"quantitative","scale":{"domain":[0,500],"nice":false,"zero":false},"axis":{"orient":"top","values":[50,100,150,200,250,300,350,400,450],"labels":false,"grid":false,"tickSize":-8,"tickColor":"#222","tickWidth":1.5,"domainColor":"#222","domainWidth":1.5,"title":null}},
  "y":{"field":"y","type":"quantitative","scale":{"type":"log","domain":[1e-33,794],"nice":false},"axis":{"orient":"right","values":[1,1e-10,1e-20,1e-30],"labels":false,"grid":false,"tickSize":-8,"tickColor":"#222","tickWidth":1.5,"domainColor":"#222","domainWidth":1.5,"title":null}},
  "text":{"field":"label"}},
 "layer":[
  {"transform":[{"filter":"datum.part === 'p'"}],"mark":{"type":"text","font":"Liberation Serif","fontSize":32,"fontWeight":"bold","align":"left","baseline":"alphabetic","color":"#000"}},
  {"transform":[{"filter":"datum.part === 'sub'"}],"mark":{"type":"text","font":"Liberation Serif","fontSize":21,"fontWeight":"bold","align":"left","baseline":"alphabetic","color":"#000"}},
  {"transform":[{"filter":"datum.part === 'txt'"}],"mark":{"type":"text","font":"Liberation Serif","fontSize":28,"align":"left","baseline":"alphabetic","color":"#000"}}
 ]}
],
"resolve":{"axis":{"x":"independent","y":"independent"}}
}
